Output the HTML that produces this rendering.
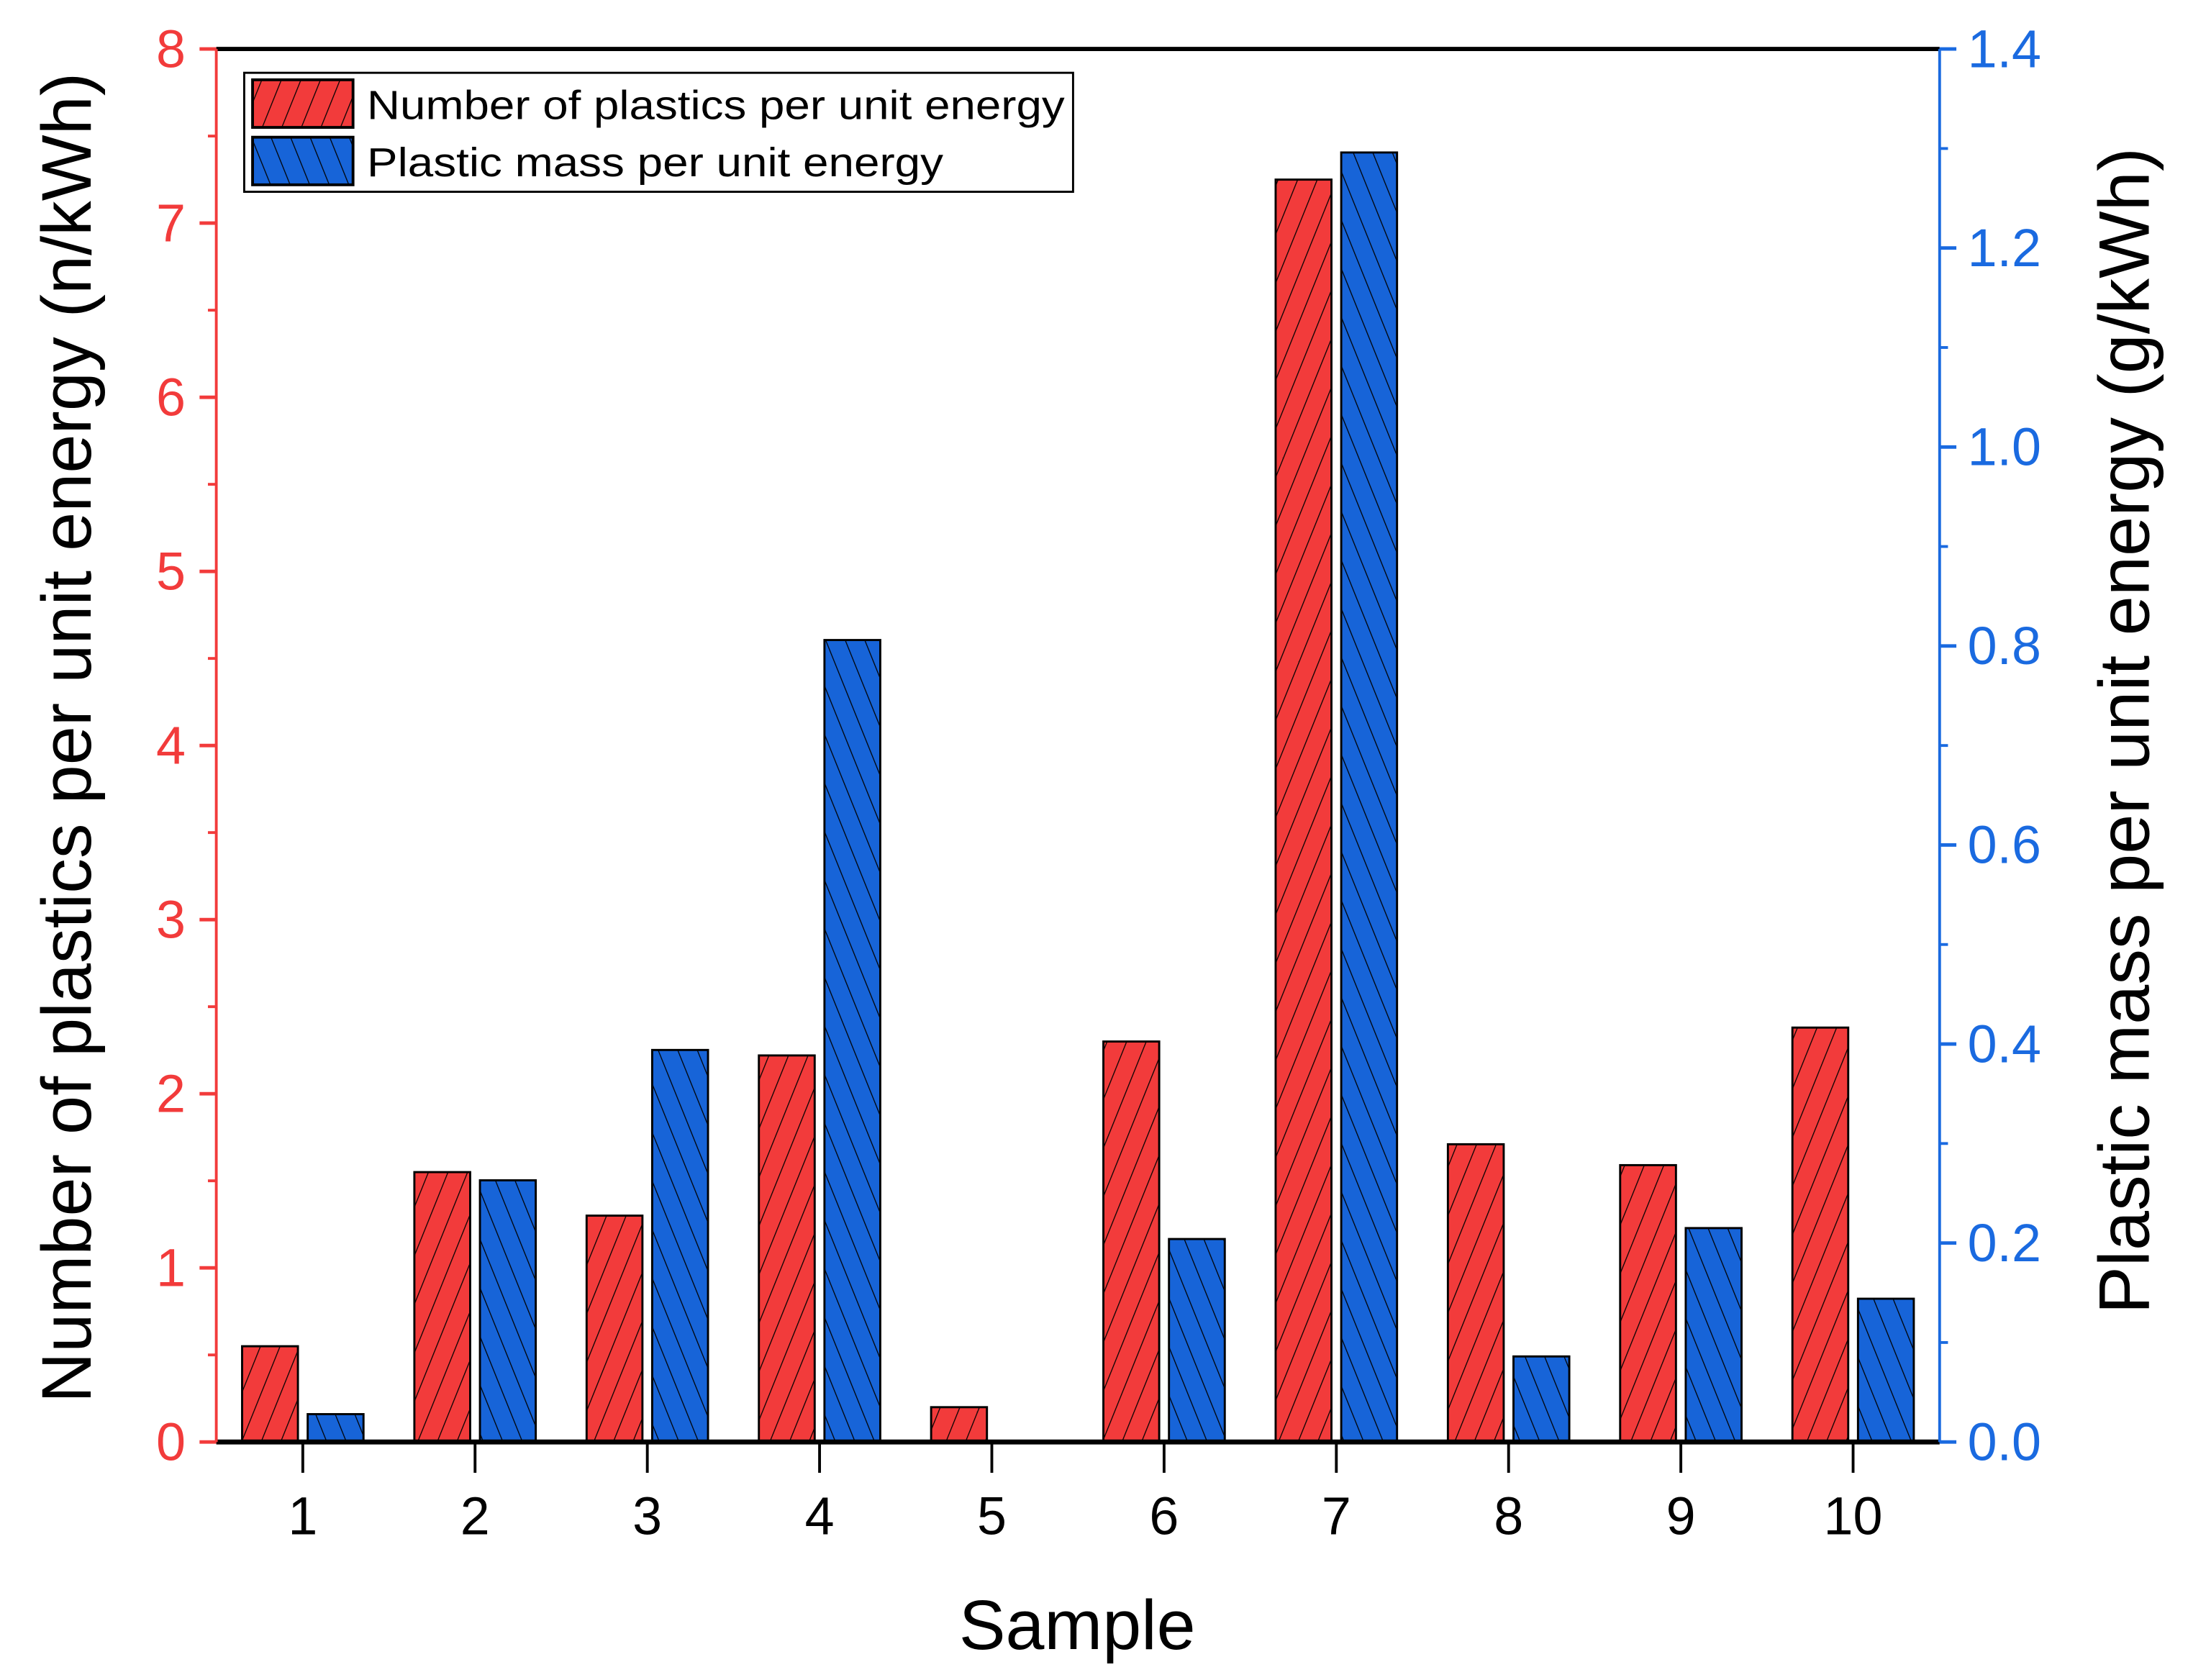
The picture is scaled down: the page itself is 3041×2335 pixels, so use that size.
<!DOCTYPE html>
<html><head><meta charset="utf-8"><style>
html,body{margin:0;padding:0;background:#fff;}
svg{display:block;font-family:"Liberation Sans",sans-serif;}
</style></head><body>
<svg id="chart" width="3041" height="2335" viewBox="0 0 1568 1200" preserveAspectRatio="none" xmlns="http://www.w3.org/2000/svg">
<defs>
<pattern id="hatchR" patternUnits="userSpaceOnUse" width="13" height="13" patternTransform="rotate(22)">
<rect width="13" height="13" fill="#f23b3b"/><line x1="0" y1="0" x2="0" y2="13" stroke="#000" stroke-width="1.3"/></pattern>
<pattern id="hatchB" patternUnits="userSpaceOnUse" width="13" height="13" patternTransform="rotate(-22)">
<rect width="13" height="13" fill="#1764d8"/><line x1="0" y1="0" x2="0" y2="13" stroke="#000" stroke-width="1.3"/></pattern>
</defs>
<g id="marks"></g>
<g id="axes"></g>
<g>
<rect x="175" y="52" width="594" height="85" fill="#fff" stroke="#000" stroke-width="1.5"/>
<rect x="181" y="57" width="72" height="34" fill="url(#hatchR)" stroke="#000" stroke-width="2"/>
<text x="263" y="85" font-size="29" textLength="500" lengthAdjust="spacingAndGlyphs">Number of plastics per unit energy</text>
<rect x="181" y="98" width="72" height="34" fill="url(#hatchB)" stroke="#000" stroke-width="2"/>
<text x="263" y="126" font-size="29" textLength="413" lengthAdjust="spacingAndGlyphs">Plastic mass per unit energy</text>
</g>
<text transform="translate(65,527) rotate(-90)" text-anchor="middle" font-size="50">Number of plastics per unit energy (n/kWh)</text>
<text transform="translate(1540,522) rotate(-90)" text-anchor="middle" font-size="51">Plastic mass per unit energy (g/kWh)</text>
<text x="772" y="1178" text-anchor="middle" font-size="50">Sample</text>
</svg>
<script>
const categories = ["1","2","3","4","5","6","7","8","9","10"];
const numberValues = [0.55,1.55,1.3,2.22,0.2,2.3,7.25,1.71,1.59,2.38];
const massValues = [0.028,0.263,0.394,0.806,0,0.204,1.296,0.086,0.215,0.144];
const leftTicks = ["0","1","2","3","4","5","6","7","8"];
const rightTicks = ["0.0","0.2","0.4","0.6","0.8","1.0","1.2","1.4"];

(function(){
const NS="http://www.w3.org/2000/svg";
const L=155,R=1390,T=35,B=1030;
const xC=i=>217+i*(1328-217)/9;
const yL=v=>B-(B-T)*v/8;
const yR=v=>B-(B-T)*v/1.4;
function mk(tag,attrs,parent){const e=document.createElementNS(NS,tag);for(const k in attrs)e.setAttribute(k,attrs[k]);parent.appendChild(e);return e;}
const marks=document.getElementById('marks'), axes=document.getElementById('axes');
const bw=40;
categories.forEach((c,i)=>{
  const y1=yL(numberValues[i]);
  const r=mk('rect',{x:xC(i)-23.5-bw/2,y:y1,width:bw,height:B-y1,fill:'url(#hatchR)',stroke:'#000','stroke-width':1.5},marks);
  
  
  const y2=yR(massValues[i]);
  if(massValues[i]>0){
  const b=mk('rect',{x:xC(i)+23.5-bw/2,y:y2,width:bw,height:B-y2,fill:'url(#hatchB)',stroke:'#000','stroke-width':1.5},marks);
  
  
  }
  const t=mk('line',{x1:xC(i),x2:xC(i),y1:B,y2:B+22,stroke:'#000','stroke-width':2},axes);
  
  
  const lb=mk('text',{x:xC(i),y:1096,'text-anchor':'middle','font-size':38},axes);
  
  
  lb.textContent=c;
});
const topLine=mk('line',{x1:L,x2:R,y1:T,y2:T,stroke:'#000','stroke-width':3},axes);


const botLine=mk('line',{x1:L,x2:R,y1:B,y2:B,stroke:'#000','stroke-width':3.5},axes);


const la=mk('line',{x1:L,x2:L,y1:T,y2:B,stroke:'#f23b3b','stroke-width':2},axes);


const ra=mk('line',{x1:R,x2:R,y1:T,y2:B,stroke:'#1a6ae0','stroke-width':2},axes);


leftTicks.forEach((s,i)=>{
  const v=+s,y=yL(v);
  const t=mk('line',{x1:L-12,x2:L,y1:y,y2:y,stroke:'#f23b3b','stroke-width':2.5},axes);
  
  
  if(i<leftTicks.length-1){const m=mk('line',{x1:L-6,x2:L,y1:yL(v+0.5),y2:yL(v+0.5),stroke:'#f23b3b','stroke-width':2},axes);
  
  }
  const lb=mk('text',{x:L-22,y:y+13,'text-anchor':'end','font-size':38,fill:'#f23b3b'},axes);
  
  
  lb.textContent=s;
});
rightTicks.forEach((s,i)=>{
  const v=+s,y=yR(v);
  const t=mk('line',{x1:R,x2:R+12,y1:y,y2:y,stroke:'#1a6ae0','stroke-width':2.5},axes);
  
  
  if(i<rightTicks.length-1){const m=mk('line',{x1:R,x2:R+6,y1:yR(v+0.1),y2:yR(v+0.1),stroke:'#1a6ae0','stroke-width':2},axes);
  
  }
  const lb=mk('text',{x:R+20,y:y+13,'text-anchor':'start','font-size':38,fill:'#1a6ae0'},axes);
  
  
  lb.textContent=s;
});
})();
</script>
</body></html>
